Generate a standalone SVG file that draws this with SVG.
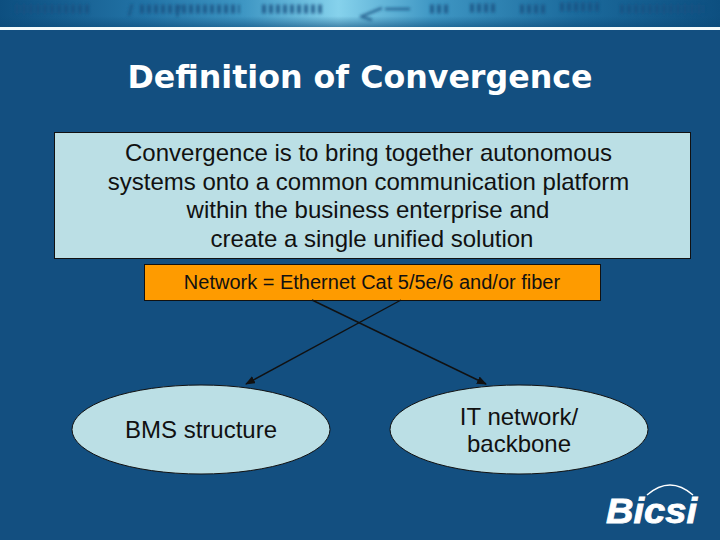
<svg xmlns="http://www.w3.org/2000/svg" width="720" height="540" viewBox="0 0 720 540">
<style>
.t{font-family:"Liberation Sans",Arial,sans-serif;font-size:24px;fill:#111;text-anchor:middle}
.box{stroke:#111;stroke-width:1}
.ell{fill:#bbdfe5;stroke:#111;stroke-width:1}
.c{stroke:#111;stroke-width:1.4;fill:none;marker-end:url(#a)}
</style>
<defs>
<marker id="a" markerWidth="10" markerHeight="8" refX="9" refY="4" orient="auto" markerUnits="userSpaceOnUse"><path d="M0 0L10 4L0 8Z" fill="#111"/></marker>
<linearGradient id="b" x1="0" x2="1" y1="0" y2="0">
<stop offset="0" stop-color="#0d4f80"/><stop offset=".2" stop-color="#2273a6"/><stop offset=".34" stop-color="#3f97c4"/><stop offset=".47" stop-color="#86d2ec"/><stop offset=".6" stop-color="#3f97c4"/><stop offset=".8" stop-color="#1b6a9c"/><stop offset="1" stop-color="#0d4f80"/>
</linearGradient>
<linearGradient id="v" x1="0" x2="0" y1="0" y2="1"><stop offset=".6" stop-color="#0b4a78" stop-opacity="0"/><stop offset="1" stop-color="#0b4a78" stop-opacity=".55"/></linearGradient>
<filter id="bl" x="-5%" y="-50%" width="110%" height="200%"><feGaussianBlur stdDeviation="1.6"/></filter>
</defs>
<rect width="720" height="540" fill="#134f80"/>
<g id="banner">
<rect width="720" height="27" fill="url(#b)"/>
<g filter="url(#bl)" stroke="#154f80" fill="none" opacity=".75">
<path stroke-width="9" stroke-dasharray="4 3" d="M15 9H90M140 9H240M262 9H322M430 9H450M470 8H498M520 9H545M560 7H600M620 9H705"/>
<path stroke-width="2.500" d="M360 17l22-9M362 17l10 3M385 9h25M132 4l-3 12M180 5l-3 12"/>
</g>
<rect width="720" height="27" fill="url(#v)"/>
<rect y="27" width="720" height="3" fill="#f4fbfb"/>
</g>
<text id="title" x="360" y="88" font-family="'DejaVu Sans',Verdana,sans-serif" font-weight="700" font-size="31.700" fill="#fff" text-anchor="middle">Definition of Convergence</text>
<g id="definition">
<rect class="box" x="54.500" y="132.500" width="636" height="126" fill="#bbdfe5"/>
<text class="t" x="368.500" y="160.500">Convergence is to bring together autonomous</text>
<text class="t" x="368.500" y="189.500">systems onto a common communication platform</text>
<text class="t" x="368" y="217.500">within the business enterprise and</text>
<text class="t" x="372" y="246.500">create a single unified solution</text>
</g>
<g id="network">
<rect class="box" x="144.500" y="264.500" width="456" height="36" fill="#fe9b00"/>
<text class="t" x="372" y="289" style="font-size:20px">Network = Ethernet Cat 5/5e/6 and/or fiber</text>
</g>
<g id="connectors">
<path class="c" d="M312 300L486 384"/>
<path class="c" d="M401 300L246 384"/>
</g>
<g id="bms">
<ellipse class="ell" cx="201" cy="429.500" rx="129" ry="44.500"/>
<text class="t" x="201" y="437.500">BMS structure</text>
</g>
<g id="it">
<ellipse class="ell" cx="519" cy="429.500" rx="129" ry="44.500"/>
<text class="t" x="519" y="424.500">IT network/</text>
<text class="t" x="519" y="451.500">backbone</text>
</g>
<g id="logo">
<path d="M647 495Q670 475 693 495" fill="none" stroke="#fff" stroke-width="1.500"/>
<text x="606" y="523" font-family="'Liberation Sans',Arial,sans-serif" font-style="italic" font-weight="700" font-size="35" fill="#fff" stroke="#fff" stroke-width=".8" textLength="91" lengthAdjust="spacingAndGlyphs">Bicsi</text>
</g>
</svg>
